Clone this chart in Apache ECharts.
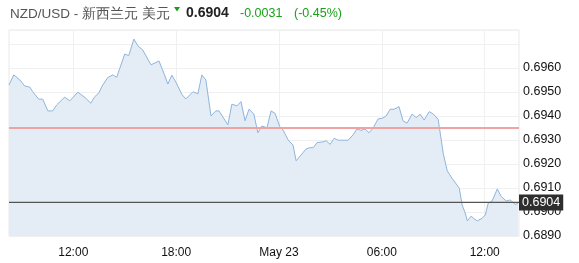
<!DOCTYPE html>
<html>
<head>
<meta charset="utf-8">
<script src="https://cdn.jsdelivr.net/npm/echarts@6/dist/echarts.min.js"></script>
<style>
html,body{margin:0;padding:0;background:#fff;}
#c{width:579px;height:263px;}
</style>
</head>
<body>
<div id="c"></div>
<script>
// ---- data ----
var titleText = "NZD/USD - 新西兰元 美元";
var lastPrice = 0.6904;
var prevClose = 0.6935;
var changeText = "-0.0031";
var changePctText = "(-0.45%)";

var times = [
 "05-22 08:15","05-22 08:32","05-22 08:53","05-22 09:10","05-22 09:28","05-22 09:38","05-22 09:59","05-22 10:13",
 "05-22 10:31","05-22 10:48","05-22 11:02","05-22 11:20","05-22 11:30","05-22 11:48","05-22 12:16","05-22 12:44",
 "05-22 13:01","05-22 13:15","05-22 13:29","05-22 13:43","05-22 14:01","05-22 14:18","05-22 14:32","05-22 15:00",
 "05-22 15:14","05-22 15:32","05-22 15:46","05-22 16:03","05-22 16:32","05-22 17:00","05-22 17:17","05-22 17:31",
 "05-22 17:45","05-22 18:00","05-22 18:20","05-22 18:34","05-22 18:59","05-22 19:16","05-22 19:30","05-22 19:44",
 "05-22 20:02","05-22 20:19","05-22 20:30","05-22 21:01","05-22 21:15","05-22 21:33","05-22 21:47","05-22 22:01",
 "05-22 22:15","05-22 22:32","05-22 22:46","05-22 23:00","05-22 23:18","05-22 23:32","05-22 23:46","05-23 00:03",
 "05-23 00:14","05-23 00:32","05-23 00:49","05-23 01:00","05-23 01:14","05-23 01:35","05-23 01:49","05-23 02:00",
 "05-23 02:13","05-23 02:34","05-23 02:45","05-23 02:59","05-23 03:13","05-23 03:27","05-23 03:44","05-23 04:02",
 "05-23 04:19","05-23 04:33","05-23 04:47","05-23 05:01","05-23 05:15","05-23 05:29","05-23 05:47","05-23 06:01",
 "05-23 06:15","05-23 06:29","05-23 06:43","05-23 07:00","05-23 07:14","05-23 07:28","05-23 07:46","05-23 08:00",
 "05-23 08:14","05-23 08:28","05-23 08:46","05-23 09:00","05-23 09:17","05-23 09:21","05-23 09:35","05-23 09:49",
 "05-23 10:06","05-23 10:31","05-23 10:41","05-23 10:52","05-23 10:59","05-23 11:13","05-23 11:20","05-23 11:34",
 "05-23 11:51","05-23 12:02","05-23 12:12","05-23 12:26","05-23 12:44","05-23 12:58","05-23 13:15","05-23 13:29",
 "05-23 13:47","05-23 13:57"
];
var prices = [
 0.69529,0.69571,0.69550,0.69525,0.69520,0.69501,0.69470,0.69470,
 0.69421,0.69421,0.69446,0.69467,0.69478,0.69463,0.69499,0.69474,
 0.69453,0.69480,0.69495,0.69529,0.69560,0.69571,0.69561,0.69658,
 0.69651,0.69720,0.69692,0.69675,0.69613,0.69629,0.69578,0.69533,
 0.69570,0.69539,0.69490,0.69471,0.69501,0.69492,0.69571,0.69550,
 0.69400,0.69421,0.69421,0.69363,0.69449,0.69442,0.69460,0.69380,
 0.69428,0.69408,0.69330,0.69358,0.69351,0.69421,0.69411,0.69355,
 0.69342,0.69300,0.69279,0.69213,0.69233,0.69263,0.69268,0.69268,
 0.69289,0.69292,0.69297,0.69282,0.69307,0.69299,0.69299,0.69299,
 0.69321,0.69346,0.69340,0.69346,0.69330,0.69349,0.69388,0.69390,
 0.69400,0.69428,0.69428,0.69439,0.69380,0.69370,0.69408,0.69393,
 0.69407,0.69383,0.69418,0.69408,0.69386,0.69355,0.69242,0.69171,
 0.69140,0.69099,0.69029,0.68995,0.68963,0.68983,0.68974,0.68963,
 0.68974,0.68988,0.69036,0.69046,0.69096,0.69064,0.69046,0.69050,
 0.69032,0.69036
];
// x-axis ticks (hours since May 22 00:00) and their labels
var xTickHours = [12, 18, 24, 30, 36];
var xTickLabels = ["12:00", "18:00", "May 23", "06:00", "12:00"];
var xStartHour = 8.25, xEndHour = 38.0;
var yMin = 0.6890, yMax = 0.69758, yStep = 0.0010, yLabelMax = 0.6960;

function toHours(t) {
  var day = parseInt(t.substr(3, 2), 10);
  var h = parseInt(t.substr(6, 2), 10);
  var m = parseInt(t.substr(9, 2), 10);
  return (day - 22) * 24 + h + m / 60;
}
var seriesData = times.map(function (t, i) { return [toHours(t), prices[i]]; });

var chart = echarts.init(document.getElementById('c'), null, {renderer: 'canvas'});
var font = 'Liberation Sans, Arial, sans-serif';
chart.setOption({
  animation: false,
  backgroundColor: '#ffffff',
  grid: {left: 9, right: 60, top: 30, bottom: 27, show: true, borderColor: '#e9e9e9', borderWidth: 1, backgroundColor: 'transparent'},
  graphic: [
    {type: 'text', left: 10, top: 7, style: {text: titleText, font: '13.5px ' + font, fill: '#555'}},
    {type: 'polygon', shape: {points: [[174, 7], [180, 7], [177, 11.5]]}, style: {fill: '#1a9b1a'}},
    {type: 'text', left: 186, top: 6, style: {text: lastPrice.toFixed(4), font: 'bold 14px ' + font, fill: '#222'}},
    {type: 'text', left: 240, top: 7, style: {text: changeText, font: '12.5px ' + font, fill: '#1aa01a'}},
    {type: 'text', left: 294, top: 7, style: {text: changePctText, font: '12.5px ' + font, fill: '#1aa01a'}}
  ],
  xAxis: {
    type: 'value', min: xStartHour, max: xEndHour,
    axisLine: {show: false},
    axisTick: {show: false, customValues: xTickHours},
    axisLabel: {
      customValues: xTickHours, margin: 11, color: '#111', fontSize: 12, fontFamily: font,
      formatter: function (v) { var i = xTickHours.indexOf(Math.round(v)); return i >= 0 ? xTickLabels[i] : ''; }
    },
    splitLine: {show: true, lineStyle: {color: '#f0f0f0', width: 1}}
  },
  yAxis: {
    type: 'value', position: 'right', min: yMin, max: yMax, interval: yStep,
    axisLine: {show: false}, axisTick: {show: false},
    axisLabel: {
      margin: 4, color: '#111', fontSize: 12.5, fontFamily: font,
      formatter: function (v) { return v > yLabelMax + 0.0001 ? '' : v.toFixed(4); }
    },
    splitLine: {show: true, lineStyle: {color: '#f0f0f0', width: 1}}
  },
  series: [
    {
      type: 'line', data: seriesData, symbol: 'none', smooth: false,
      lineStyle: {color: '#8fb5dc', width: 1},
      areaStyle: {color: '#e4ecf5', opacity: 1, origin: 'start'},
      z: 2
    },
    {
      type: 'line', data: [[xStartHour, prevClose], [xEndHour, prevClose]], symbol: 'none',
      lineStyle: {color: '#f0a3a3', width: 2}, z: 3, silent: true
    },
    {
      type: 'line', data: [[xStartHour, lastPrice], [xEndHour, lastPrice]], symbol: 'none',
      lineStyle: {color: '#555', width: 1.3}, z: 4, silent: true,
      endLabel: {show: true, distance: 0, formatter: lastPrice.toFixed(4),
                 color: '#fff', backgroundColor: '#2e2e2e', padding: [2, 3, 1, 3], fontSize: 12.5, fontFamily: font}
    }
  ]
});
</script>
</body>
</html>
